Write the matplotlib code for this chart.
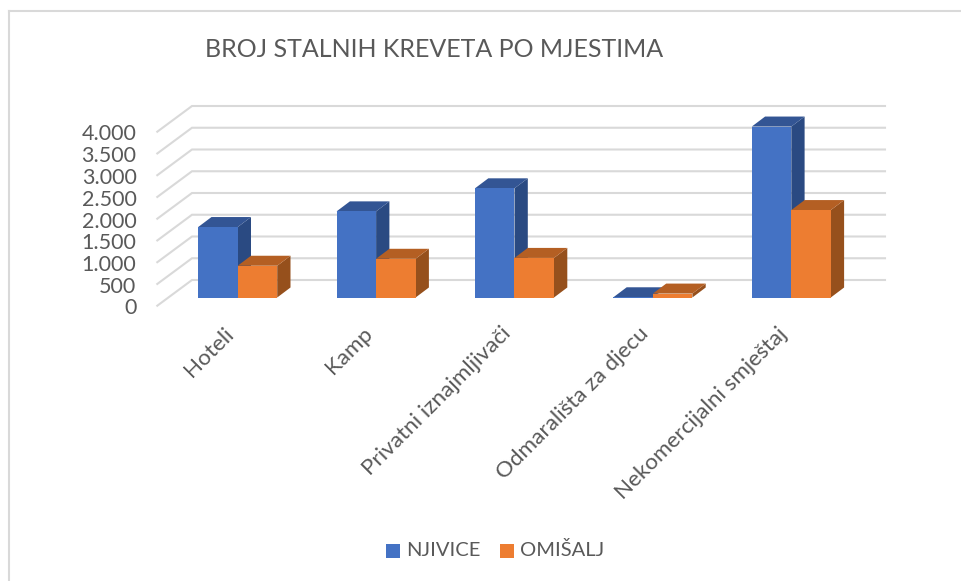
#!/usr/bin/env python3
"""Broj stalnih kreveta po mjestima: pseudo-3D column chart."""
import matplotlib
matplotlib.use("Agg")
import matplotlib.pyplot as plt

categories = ["Hoteli", "Kamp", "Privatni iznajmljivači", "Odmarališta za djecu", "Nekomercijalni smještaj"]
njivice = [1620, 1980, 2510, 5, 3930]
omisalj = [730, 890, 910, 90, 2010]
yticks = [0, 500, 1000, 1500, 2000, 2500, 3000, 3500, 4000]
ytick_labels = ["0", "500", "1.000", "1.500", "2.000", "2.500", "3.000", "3.500", "4.000"]

W, H = 962, 581
X0, DX = 237.7, 138.4    # pixel x of first group centre, group spacing
Y0, PX500 = 297.5, 21.75  # pixel y of value 0 on the bar front, pixels per 500
BAR_W = 39.5 / DX

plt.rcParams["font.family"] = ["Lato", "DejaVu Sans"]
fig = plt.figure(figsize=(W / 100, H / 100), dpi=100, facecolor="white")
ax = fig.add_axes([0, 0, 1, 1])
# map data onto the image so one x unit is a group and y is in beds
ax.set_xlim(-X0 / DX, (W - X0) / DX)
ax.set_ylim((Y0 - H) / PX500 * 500, Y0 / PX500 * 500)
ax.axis("off")


def ox(px):
    return px / DX


def oy(px):
    return px / PX500 * 500


# chart frame: left and top only, the crop cuts the rest
ax.plot([ox(9.3 - X0)] * 2, [oy(Y0 - H), oy(Y0 - 10.5)], color="#d9d9d9", lw=1.5, zorder=1)
ax.plot([ox(9.3 - X0), ox(W - X0)], [oy(Y0 - 10.5)] * 2, color="#d9d9d9", lw=1.5, zorder=1)

# floor and wall gridlines
front_x, back_x, right_x = ox(157.3 - X0), ox(192 - X0), ox(885 - X0)
drop, rise = oy(8.2), oy(17.5)
for v, lab in zip(yticks, ytick_labels):
    ax.plot([front_x, back_x, right_x], [v - drop, v + rise, v + rise], color="#d9d9d9", lw=1.5,
            solid_joinstyle="miter", zorder=1)
    ax.text(ox(136.5 - X0), v - drop - oy(2.8), lab, ha="right", va="center", fontsize=15.5, color="#595959")

# columns: side and top faces first, then the front from ax.bar
dep_x, dep_y = ox(13.3), oy(10)
for i in range(len(categories)):
    for val, off, top, side in [
        (njivice[i], -BAR_W, "#335594", "#2a4a82"),
        (omisalj[i], 0.0, "#b45f23", "#96501c"),
    ]:
        l, r = i + off, i + off + BAR_W
        ax.fill([r, r + dep_x, r + dep_x, r], [0, dep_y, val + dep_y, val], color=side, lw=0, zorder=3)
        ax.fill([l, l + dep_x, r + dep_x, r], [val, val + dep_y, val + dep_y, val], color=top, lw=0, zorder=3)
ax.bar([i - BAR_W for i in range(5)], njivice, width=BAR_W, align="edge", color="#4472c4", lw=0, zorder=3)
ax.bar([i for i in range(5)], omisalj, width=BAR_W, align="edge", color="#ed7d31", lw=0, zorder=4)

# category labels, rotated with their end under the group
for i, cat in enumerate(categories):
    ax.text(i - ox(7), -oy(33), cat, rotation=45, rotation_mode="anchor", ha="right", va="center",
            fontsize=16.2, color="#595959")

ax.text(ox(205 - X0), oy(Y0 - 49.5), "BROJ STALNIH KREVETA PO MJESTIMA", fontsize=18, color="#595959", va="center")

# legend
for px, name, col in [(386, "NJIVICE", "#4472c4"), (500, "OMIŠALJ", "#ed7d31")]:
    ax.bar(ox(px - X0), oy(14), width=ox(14), bottom=oy(Y0 - 557.5), align="edge", color=col, lw=0)
    ax.text(ox(px + 20 - X0), oy(Y0 - 550), name, fontsize=14.5, color="#595959", va="center")

fig.savefig("out.png", dpi=100, facecolor="white")
plt.close(fig)
